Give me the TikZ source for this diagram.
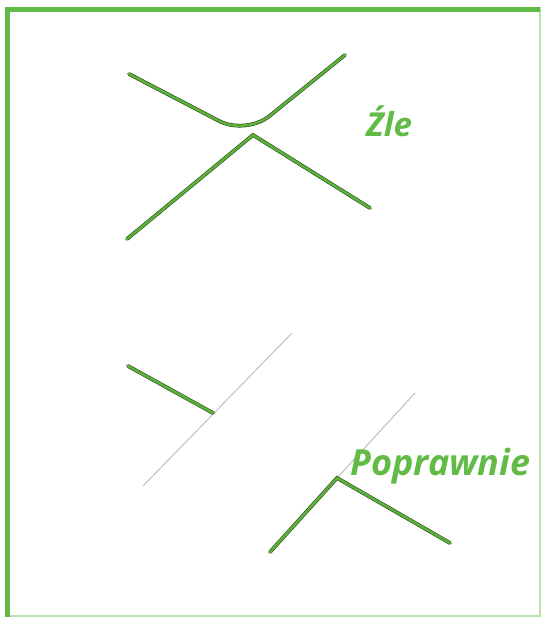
\documentclass[tikz,border=0pt]{standalone}
\usepackage{fontspec}
\setsansfont{Open Sans}
\usetikzlibrary{positioning}
\definecolor{ramka}{RGB}{98,187,70}
\definecolor{ramkajasna}{RGB}{184,226,172}
\definecolor{kreska}{RGB}{92,178,56}
\definecolor{obrys}{RGB}{35,65,25}
\tikzset{
  kreska/.style={draw=obrys, line width=0.55pt, double=kreska, double distance=2.6pt, line cap=round},
  pomocnicza/.style={draw=black!25, line width=1pt},
  napis/.style={text=ramka, inner sep=0pt, anchor=base west, font=\sffamily\itshape\bfseries}
}

\begin{document}
\begin{tikzpicture}[x=1pt, y=-1pt]
\useasboundingbox (0,0) rectangle (542,617);
\fill [white] (0,0) rectangle (542,617);
% ramka
\draw [ramkajasna, line width=1.2pt] (540,7) -- (540,616) -- (5,616);
\draw [ramka, line width=5pt] (5,9.7) -- (540,9.7);
\draw [ramka, line width=5pt] (7.5,7) -- (7.5,617);
% zle
\coordinate (a1) at (129,74);
\coordinate (a2) at (246,135);
\coordinate (a3) at (345,55);
\coordinate (b1) at (127,239);
\coordinate (b2) at (253,135);
\coordinate (b3) at (370,208);
\draw [kreska, rounded corners=30pt] (a1) -- (a2) -- (a3);
\draw [kreska] (b1) -- (b2) -- (b3);
\node (zle) at (366,137) [napis] {\fontsize{33}{38}\selectfont Źle};
% poprawnie
\coordinate (c1) at (143,486);
\coordinate (c2) at (292,333);
\coordinate (c3) at (128,366);
\coordinate (c4) at (213,413);
\coordinate (d1) at (337,478);
\coordinate (d2) at (415,393);
\coordinate (d3) at (270,552);
\coordinate (d4) at (450,543);
\draw [pomocnicza] (c1) -- (c2);
\draw [pomocnicza] (d1) -- (d2);
\draw [kreska] (c3) -- (c4);
\draw [kreska] (d3) -- (d1) -- (d4);
\node (poprawnie) at (350,475) [napis] {\fontsize{36}{41}\selectfont Poprawnie};
\end{tikzpicture}
\end{document}
